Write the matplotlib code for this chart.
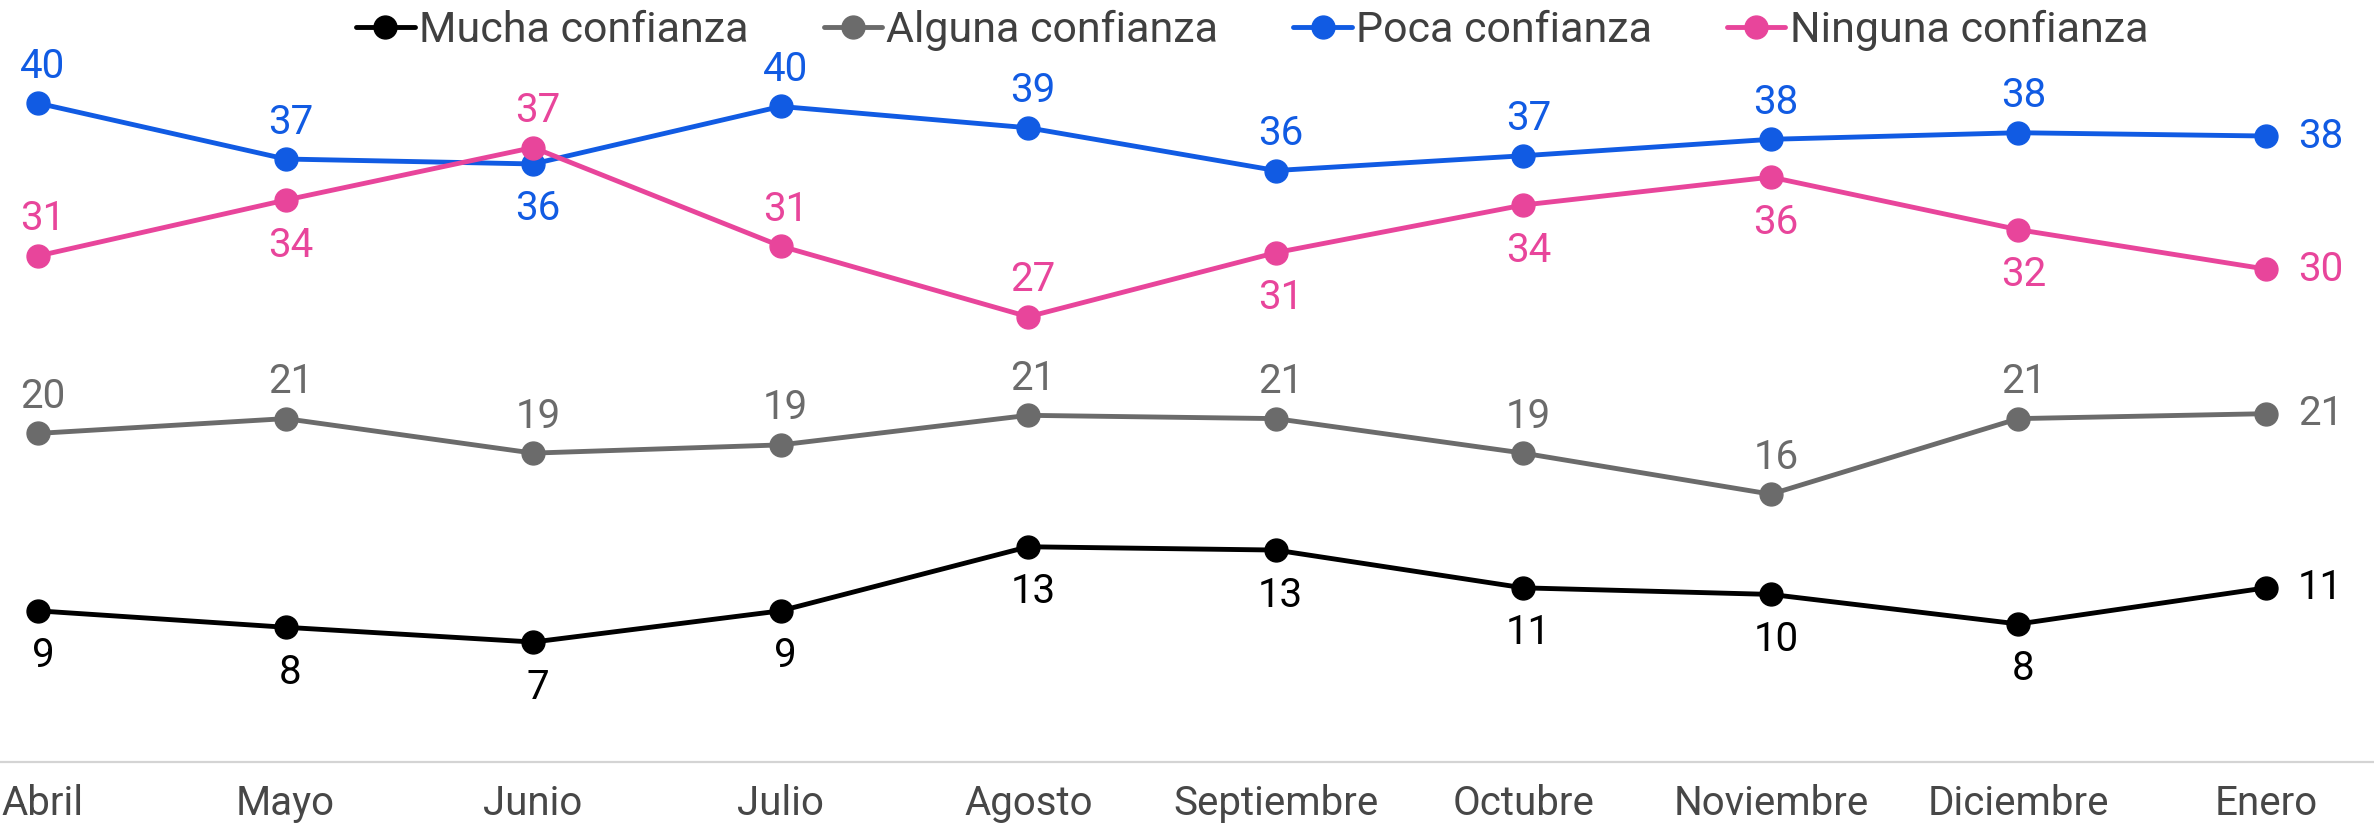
import matplotlib
matplotlib.use("Agg")
import matplotlib.pyplot as plt
from matplotlib.transforms import ScaledTranslation

plt.rcParams['font.family'] = ['Roboto', 'DejaVu Sans']

meses = ['Abril', 'Mayo', 'Junio', 'Julio', 'Agosto', 'Septiembre',
         'Octubre', 'Noviembre', 'Diciembre', 'Enero']

mucha = [9.2, 8.2, 7.3, 9.2, 13.1, 12.9, 10.6, 10.2, 8.4, 10.6]
alguna = [20.0, 20.9, 18.8, 19.3, 21.1, 20.9, 18.8, 16.3, 20.9, 21.2]
poca = [40.1, 36.7, 36.4, 39.9, 38.6, 36.0, 36.9, 37.9, 38.3, 38.1]
ninguna = [30.8, 34.2, 37.4, 31.4, 27.1, 31.0, 33.9, 35.6, 32.4, 30.0]

# where each value label sits relative to its point ('a' above, 'b' below)
lado_mucha = ['b'] * 9
lado_alguna = ['a'] * 9
lado_poca = ['a', 'a', 'b', 'a', 'a', 'a', 'a', 'a', 'a']
lado_ninguna = ['a', 'b', 'a', 'a', 'a', 'b', 'b', 'b', 'b']

series = [
    ('Mucha confianza', mucha, '#000000', lado_mucha),
    ('Alguna confianza', alguna, '#6b6b6b', lado_alguna),
    ('Poca confianza', poca, '#115be3', lado_poca),
    ('Ninguna confianza', ninguna, '#e8459b', lado_ninguna),
]

W, H = 2374, 827
fig = plt.figure(figsize=(W / 100, H / 100), dpi=100)
ax = fig.add_axes([0, 0, 1, 1])

x = list(range(len(meses)))
for nombre, vals, color, lados in series:
    ax.plot(x, vals, color=color, lw=3.5, marker='o', ms=16.5,
            label=nombre, solid_capstyle='round')
    for i, v in enumerate(vals):
        if i == len(vals) - 1:
            ax.annotate(f'{v:.0f}', (i, v), xytext=(32, 0),
                        textcoords='offset pixels', ha='left', va='center',
                        fontsize=29, color=color)
        else:
            dy = 37 if lados[i] == 'a' else -45
            ax.annotate(f'{v:.0f}', (i + 0.02, v), xytext=(0, dy),
                        textcoords='offset pixels', ha='center', va='center',
                        fontsize=29, color=color)

# pixel mapping: first month at x=38px, last at x=2266px; y=0 at 762px
px_x = (2266 - 38) / 9
ax.set_xlim(-38 / px_x, 9 + (W - 2266) / px_x)
px_y = 16.43
ax.set_ylim(-(H - 762) / px_y, 762 / px_y)

ax.axhline(0, color='#d4d4d4', lw=1.6, zorder=0)
for s in ax.spines.values():
    s.set_visible(False)
ax.set_yticks([])
ax.set_xticks(x)
ax.set_xticklabels(meses, fontsize=29, color='#474747')
ax.tick_params(axis='x', length=0, pad=-31)
# nudge the first month label so it stays inside the left edge
primera = ax.get_xticklabels()[0]
primera.set_transform(primera.get_transform()
                      + ScaledTranslation(0.05, 0, fig.dpi_scale_trans))

leg = ax.legend(ncol=4, loc='upper center', bbox_to_anchor=(0.5275, 0.993),
                frameon=False, fontsize=31, handlelength=1.35,
                handletextpad=0.1, columnspacing=1.75, borderaxespad=0.0,
                borderpad=0.1)
for t in leg.get_texts():
    t.set_color('#404040')

fig.savefig('out.png', dpi=100)
